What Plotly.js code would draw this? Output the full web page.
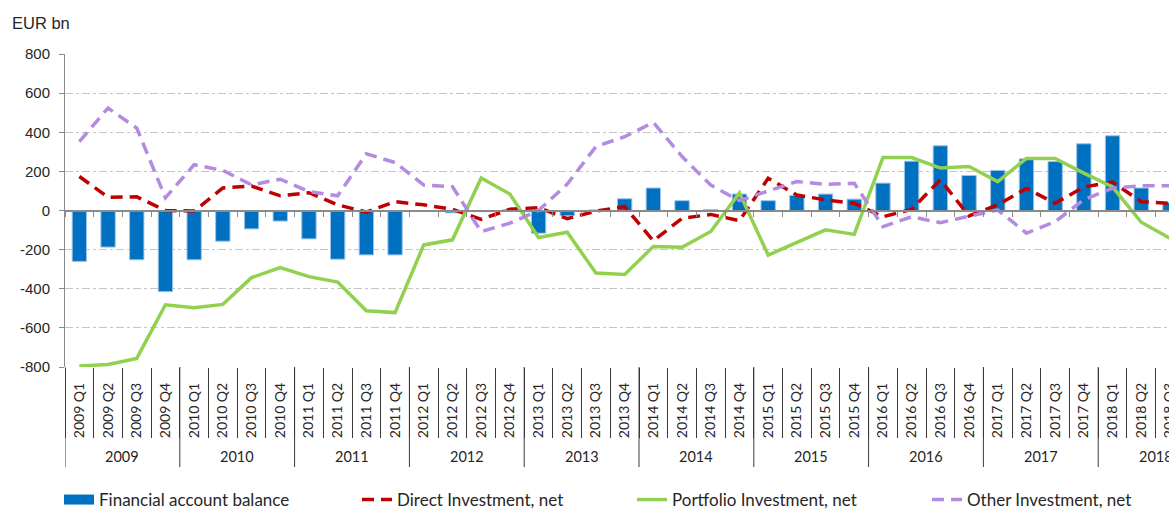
<!DOCTYPE html>
<html>
<head>
<meta charset="utf-8">
<script src="https://cdn.plot.ly/plotly-3.0.1.min.js"></script>
<style>
  html, body { margin: 0; padding: 0; overflow: hidden; background: #fff; }
  #chart { width: 1220px; height: 511px; }
</style>
</head>
<body>
<div id="chart"></div>
<script>
// ---- data ----
var years = ['2009','2010','2011','2012','2013','2014','2015','2016','2017','2018'];
var quarterNames = ['Q1','Q2','Q3','Q4'];
var quarters = [];
years.forEach(function (y) { quarterNames.forEach(function (q) { quarters.push(y + ' ' + q); }); });

var financialAccount = [-260,-187,-252,-415, -252,-157,-94,-54, -145,-249,-227,-227,
                        -5,-12,-6,5, -116,-27,3,60, 115,50,5,84, 50,77,84,58,
                        140,252,331,179, 205,264,250,341, 382,115,41,null];
var directInv = [174,68,70,0, -3,115,125,75, 91,29,-8,45, 29,6,-45,6, 15,-42,-3,20,
                 -155,-40,-20,-52, 165,79,54,37, -32,6,157,-28, 29,113,37,120, 145,45,37,null];
var portfolioInv = [-795,-787,-756,-482, -497,-480,-343,-292, -338,-366,-513,-522,
                    -176,-150,166,84, -138,-111,-320,-327, -184,-188,-107,90,
                    -228,-164,-99,-122, 271,271,217,225, 148,266,266,191, 120,-60,-142,null];
var otherInv = [352,524,421,65, 234,205,131,160, 97,75,290,245, 130,122,-108,-65,
                0,135,327,377, 450,276,130,50, 100,148,134,139, -82,-32,-62,-28,
                3,-116,-57,55, 114,126,127,null];
var seriesNames = ['Financial account balance','Direct Investment, net','Portfolio Investment, net','Other Investment, net'];
var yTickValues = [-800,-600,-400,-200,0,200,400,600,800];
var yTickLabels = ['-800','-600','-400','-200','0','200','400','600','800'];

// ---- style ----
var LBL = 'Lato, "Open Sans", sans-serif';
var TXT = '#262626';

var traces = [
  { type: 'bar', x: quarters, y: financialAccount, name: seriesNames[0], showlegend: false,
    marker: { color: '#0070C0', line: { color: '#9CC3E8', width: 1 } }, hoverinfo: 'x+y' },
  { type: 'scatter', mode: 'lines', x: [quarters[0]], y: [null], name: seriesNames[0],
    legend: 'legend', xaxis: 'x2', line: { color: '#0070C0', width: 10 }, hoverinfo: 'skip' },
  { type: 'scatter', mode: 'lines', x: quarters, y: directInv, name: seriesNames[1],
    legend: 'legend2', xaxis: 'x2', line: { color: '#C00000', width: 3.5, dash: '12px,7px' } },
  { type: 'scatter', mode: 'lines', x: quarters, y: portfolioInv, name: seriesNames[2],
    legend: 'legend3', xaxis: 'x3', line: { color: '#92D050', width: 3.5 } },
  { type: 'scatter', mode: 'lines', x: quarters, y: otherInv, name: seriesNames[3],
    legend: 'legend4', xaxis: 'x3', line: { color: '#B38BE0', width: 3.5, dash: '12px,7px' } }
];

var catRange = [-0.5, quarters.length - 0.5];
var baseX = { type: 'category', categoryorder: 'array', categoryarray: quarters,
              range: catRange, fixedrange: true, showgrid: false, zeroline: false };

// year labels and year divider lines, positioned from the data
var annotations = years.map(function (y, i) {
  return { text: y, xref: 'x', yref: 'paper', x: i * 4 + 1.5, y: -0.2875,
           showarrow: false, xanchor: 'center', yanchor: 'middle',
           font: { family: LBL, size: 14.5, color: TXT } };
});
var shapes = [];
for (var k = 0; k <= years.length; k++) {
  shapes.push({ type: 'line', xref: 'x', yref: 'paper', x0: k * 4 - 0.5, x1: k * 4 - 0.5,
                y0: 0, y1: -0.3195, line: { color: '#3a3a3a', width: 1 } });
}

function legendAt(px) {
  return { x: px / 1220, xref: 'container', y: 1 - 500 / 511, yref: 'container',
           xanchor: 'left', yanchor: 'middle', orientation: 'h',
           bgcolor: 'rgba(0,0,0,0)', font: { family: LBL, size: 17, color: TXT } };
}

var layout = {
  width: 1220, height: 511,
  margin: { l: 65, r: 7, t: 54, b: 144 },
  paper_bgcolor: '#fff', plot_bgcolor: '#fff',
  title: { text: 'EUR bn', x: 12 / 1220, xref: 'container', xanchor: 'left',
           y: 1 - 23 / 511, yref: 'container', yanchor: 'middle',
           font: { family: '"Liberation Sans", Arial, sans-serif', size: 16.5, color: TXT } },
  bargap: 0.5,
  showlegend: true,
  legend: legendAt(59),
  legend2: legendAt(357),
  legend3: legendAt(632),
  legend4: legendAt(927),
  xaxis: Object.assign({}, baseX, {
    ticks: '', showline: false, tickangle: -90, ticklabelstandoff: 12,
    tickfont: { family: LBL, size: 14, color: TXT }
  }),
  xaxis2: Object.assign({}, baseX, {
    overlaying: 'x', anchor: 'y', side: 'bottom', matches: 'x',
    showticklabels: false, ticks: 'outside', tickson: 'boundaries',
    ticklen: 70, tickwidth: 1, tickcolor: '#3a3a3a', showline: false
  }),
  xaxis3: Object.assign({}, baseX, {
    overlaying: 'x', anchor: 'free', position: 0.5, side: 'bottom', matches: 'x',
    showticklabels: false, ticks: 'outside', tickson: 'boundaries',
    ticklen: 5, tickwidth: 1, tickcolor: '#8a8a8a',
    showline: true, linecolor: '#8a8a8a', linewidth: 2
  }),
  yaxis: {
    range: [-800, 800], tickmode: 'array', tickvals: yTickValues, ticktext: yTickLabels,
    fixedrange: true,
    showgrid: true, gridcolor: '#c4c4c4', gridwidth: 1, griddash: '8px,3px,3px,3px',
    zeroline: false, showline: true, linecolor: '#8a8a8a', linewidth: 1,
    ticks: 'outside', ticklen: 5, tickcolor: '#8a8a8a', ticklabelstandoff: 6,
    tickfont: { family: '"Liberation Sans", Arial, sans-serif', size: 15, color: TXT }
  },
  annotations: annotations,
  shapes: shapes
};

Plotly.newPlot('chart', traces, layout, { displayModeBar: false, staticPlot: true });
</script>
</body>
</html>
